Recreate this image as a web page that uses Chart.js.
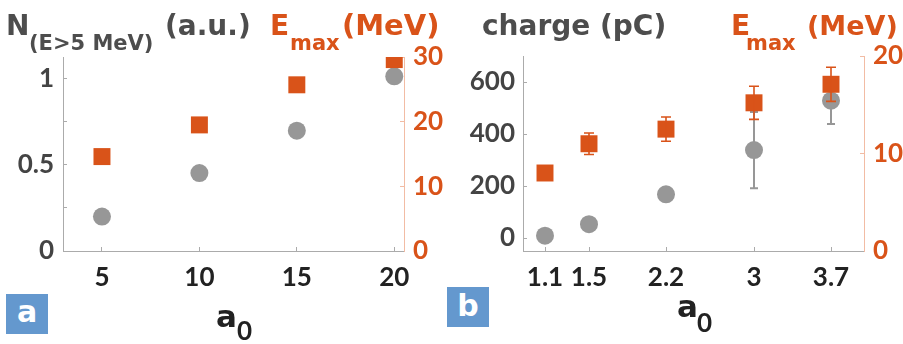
<!DOCTYPE html>
<html>
<head>
<meta charset="utf-8">
<script src="https://cdn.jsdelivr.net/npm/chart.js@4"></script>
<style>
  html, body { margin: 0; padding: 0; background: #fff; }
  #wrap { position: relative; width: 903px; height: 344px; overflow: hidden; }
  #ca { position: absolute; left: 0; top: 0; }
  #cb { position: absolute; left: 450px; top: 0; }
  .tag {
    position: absolute; background: #6498CE; color: #fff;
    font: bold 30px "DejaVu Sans", sans-serif;
    display: flex; align-items: center; justify-content: center;
  }
</style>
</head>
<body>
<div id="wrap">
  <canvas id="ca" width="450" height="344"></canvas>
  <canvas id="cb" width="453" height="344"></canvas>
  <div class="tag" style="left:6px;top:294px;width:42px;height:40px;"><span style="margin-top:-6px">a</span></div>
  <div class="tag" style="left:447px;top:287px;width:42px;height:40px;"><span style="margin-top:-4px">b</span></div>
</div>
<script>
// ---- panel a: electron yield and cut-off energy vs a0 ----
const a0A = [5, 10, 15, 20];
const yieldA = [0.2, 0.452, 0.698, 1.013];      // N(E>5 MeV), a.u.
const emaxA = [14.6, 19.5, 25.7, 29.6];          // Emax, MeV
const xTicksA = [5, 10, 15, 20];
const yTicksA = [0, 0.25, 0.5, 0.75, 1];
const yLabelsA = [0, 0.5, 1];
const y2TicksA = [0, 10, 20, 30];

// ---- panel b: charge and cut-off energy vs a0 ----
const a0B = [1.1, 1.5, 2.2, 3, 3.7];
const chargeB = [9, 53, 168, 338, 528];          // pC
const chargeErrB = [0, 0, 0, 147, 90];
const emaxB = [8.0, 11.0, 12.5, 15.2, 17.1];     // MeV
const emaxErrB = [0, 1.1, 1.25, 1.7, 1.75];
const xTicksB = [1.1, 1.5, 2.2, 3, 3.7];
const yTicksB = [0, 200, 400, 600];
const y2TicksB = [0, 10, 20];

const ORANGE = '#D95319';
const GREY = '#979797';
const DARK = '#4D4D4D';
const AXIS_GREY = '#ABABAB';
const AXIS_ORANGE = '#F2BCA4';
const TICK_FONT = { family: 'Lato', weight: 'bold', size: 26 };

function points(xs, ys) { return xs.map((x, i) => ({ x, y: ys[i] })); }

function fixed(values) { return s => { s.ticks = values.map(v => ({ value: v })); }; }

function axisY(pos, min, max, ticks, labels, width, pad, color, lineColor) {
  return {
    type: 'linear', position: pos, min, max,
    afterBuildTicks: fixed(ticks),
    afterFit: s => { s.width = width; },
    ticks: {
      padding: pad, color, font: TICK_FONT, autoSkip: false,
      callback: v => (labels.includes(v) ? String(v) : '')
    },
    grid: { drawOnChartArea: false, drawTicks: true, tickLength: -4, color: lineColor, tickColor: lineColor },
    border: { display: true, color: lineColor, width: 1 }
  };
}

function axisX(min, max, ticks) {
  return {
    type: 'linear', position: 'bottom', min, max,
    afterBuildTicks: fixed(ticks),
    afterFit: s => { s.height = 93; },
    ticks: { padding: 15, color: '#222', font: TICK_FONT, autoSkip: false, maxRotation: 0, callback: v => String(v) },
    grid: { drawOnChartArea: false, drawTicks: true, tickLength: -4, color: AXIS_GREY, tickColor: AXIS_GREY },
    border: { display: true, color: AXIS_GREY, width: 1 }
  };
}

// error bars drawn right after their own dataset, titles at the end
const decorations = {
  id: 'decorations',
  afterDatasetDraw(chart, args) {
    const ds = chart.data.datasets[args.index];
    if (!ds.yErr) return;
    const ctx = chart.ctx;
    const xs = chart.scales.x, ys = chart.scales[ds.yAxisID];
    ctx.save();
    ctx.strokeStyle = ds.errColor;
    ctx.lineWidth = ds.errWidth;
    ds.data.forEach((p, i) => {
      const e = ds.yErr[i];
      if (!e) return;
      const px = xs.getPixelForValue(p.x);
      const t = ys.getPixelForValue(p.y + e);
      const b = ys.getPixelForValue(p.y - e);
      const c = ds.capHalf;
      ctx.beginPath();
      ctx.moveTo(px, t); ctx.lineTo(px, b);
      ctx.moveTo(px - c, t); ctx.lineTo(px + c, t);
      ctx.moveTo(px - c, b); ctx.lineTo(px + c, b);
      ctx.stroke();
    });
    ctx.restore();
  },
  afterDraw(chart, args, opts) {
    const ctx = chart.ctx;
    ctx.save();
    ctx.textBaseline = 'alphabetic';
    (opts.texts || []).forEach(([txt, x, y, size, color, family]) => {
      ctx.font = 'bold ' + size + 'px ' + (family || '"DejaVu Sans"');
      ctx.fillStyle = color;
      ctx.fillText(txt, x, y);
    });
    ctx.restore();
  }
};

function datasets(xs, grey, greyErr, orange, orangeErr) {
  return [
    {
      label: 'Emax', data: points(xs, orange), yAxisID: 'y2',
      pointStyle: 'rect', pointRadius: 12, pointBorderWidth: 0,
      backgroundColor: ORANGE, borderColor: ORANGE,
      yErr: orangeErr, errColor: ORANGE, errWidth: 1.6, capHalf: 5
    },
    {
      label: 'N', data: points(xs, grey), yAxisID: 'y',
      pointStyle: 'circle', pointRadius: 9, pointBorderWidth: 0,
      backgroundColor: GREY, borderColor: GREY,
      yErr: greyErr, errColor: GREY, errWidth: 2, capHalf: 4
    }
  ];
}

const common = {
  responsive: false, animation: false,
  events: [],
  plugins: { legend: { display: false }, tooltip: { enabled: false } }
};

new Chart(document.getElementById('ca'), {
  type: 'scatter',
  data: { datasets: datasets(a0A, yieldA, null, emaxA, null) },
  options: Object.assign({}, common, {
    layout: { padding: { top: 57, left: 0, right: 0, bottom: 0 } },
    scales: {
      x: axisX(3, 20.5, xTicksA),
      y: axisY('left', 0, 1.125, yTicksA, yLabelsA, 63, 13, '#444', AXIS_GREY),
      y2: axisY('right', 0, 30, y2TicksA, y2TicksA, 46, 13, ORANGE, AXIS_ORANGE)
    },
    plugins: Object.assign({}, common.plugins, {
      decorations: {
        texts: [
          ['N', 6, 35, 28, DARK],
          ['(E>5 MeV)', 29, 50, 21, DARK],
          ['(a.u.)', 165, 35, 28, DARK],
          ['E', 270, 35, 28, ORANGE],
          ['max', 290, 50, 21, ORANGE],
          ['(MeV)', 342, 35, 29, ORANGE],
          ['a', 216, 327, 31, '#222'],
          ['0', 237, 340, 26, '#222', 'Lato']
        ]
      }
    })
  }),
  plugins: [decorations]
});

new Chart(document.getElementById('cb'), {
  type: 'scatter',
  data: { datasets: datasets(a0B, chargeB, chargeErrB, emaxB, emaxErrB) },
  options: Object.assign({}, common, {
    layout: { padding: { top: 56, left: 0, right: 0, bottom: 0 } },
    scales: {
      x: axisX(0.9, 4, xTicksB),
      y: axisY('left', -50, 700, yTicksB, yTicksB, 73, 12, '#444', AXIS_GREY),
      y2: axisY('right', 0, 20, y2TicksB, y2TicksB, 39, 13, ORANGE, AXIS_ORANGE)
    },
    plugins: Object.assign({}, common.plugins, {
      decorations: {
        texts: [
          ['charge (pC)', 32, 35, 28, DARK],
          ['E', 281, 35, 28, ORANGE],
          ['max', 296, 50, 21, ORANGE],
          ['(MeV)', 357, 35, 27, ORANGE],
          ['a', 227, 317, 31, '#222'],
          ['0', 247, 332, 26, '#222', 'Lato']
        ]
      }
    })
  }),
  plugins: [decorations]
});
</script>
</body>
</html>
